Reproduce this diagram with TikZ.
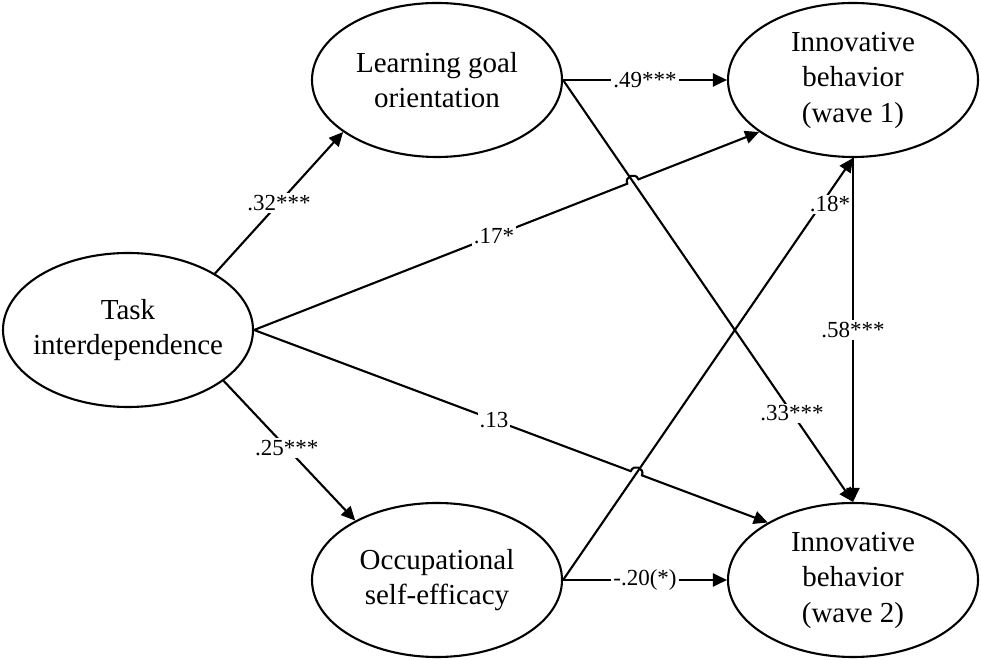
\documentclass[tikz,border=0pt]{standalone}
\usepackage{fontspec}
\setmainfont{Liberation Serif}
\usetikzlibrary{arrows.meta,shapes.geometric,calc,intersections}
\begin{document}
\begin{tikzpicture}[x=1pt,y=1pt,
  latent/.style={ellipse, draw, line width=2.1pt, minimum width=250pt, minimum height=154pt,
    inner xsep=-40pt, inner ysep=0pt, align=center, font=\fontsize{29}{35.5}\selectfont},
  conn/.style={line width=2.1pt, -{Triangle[length=14pt,width=13pt]}},
  lbl/.style={fill=white, inner sep=2pt, font=\fontsize{23}{27}\selectfont}]
\useasboundingbox (0,0) rectangle (981,660);
\node[latent] (task) at (128,330) {Task\\interdependence};
\node[latent] (lgo) at (437,580) {Learning goal\\orientation};
\node[latent] (ose) at (437,80) {Occupational\\self-efficacy};
\node[latent] (w1) at (853,580) {Innovative\\behavior\\(wave 1)};
\node[latent] (w2) at (853,80) {Innovative\\behavior\\(wave 2)};
% paths for crossings
\path[name path=p33] (lgo.east) -- (w2.north);
\path[name path=p17] (task.east) -- (w1.209);
\path[name path=p18] (ose.east) -- (w1.south);
\path[name path=p13] (task.east) -- (w2.146);
\path[name intersections={of=p33 and p17, by=x17}];
\path[name intersections={of=p18 and p13, by=x13}];
% connectors
\draw[conn] (task.33) -- (lgo.209);
\draw[conn] (task.-28) -- (ose.144);
\draw[conn] (lgo.east) -- (w1.west);
\draw[conn] (lgo.east) -- (w2.north);
\draw[conn] (ose.east) -- (w1.south);
\draw[conn] (ose.east) -- (w2.west);
\draw[conn] (w1.south) -- (w2.north);
\draw[conn] (task.east) -- ($(x17)!6pt!(task.east)$) to[bend left=90,looseness=1.7] ($(x17)!6pt!(w1.209)$) -- (w1.209);
\draw[conn] (task.east) -- ($(x13)!6pt!(task.east)$) to[bend left=90,looseness=1.7] ($(x13)!6pt!(w2.146)$) -- (w2.146);
% labels
\node[lbl] (l32) at ($(task.33)!0.5!(lgo.209)$) {.32***};
\node[lbl] (l49) at ($(lgo.east)!0.5!(w1.west)$) {.49***};
\node[lbl] (l17) at ($(task.east)!0.475!(w1.209)$) {.17*};
\node[lbl] (l33) at ($(lgo.east)!0.79!(w2.north)$) {.33***};
\node[lbl] (l58) at ($(w1.south)!0.5!(w2.north)$) {.58***};
\node[lbl] (l13) at ($(task.east)!0.467!(w2.146)$) {.13};
\node[lbl] (l25) at ($(task.-28)!0.48!(ose.144)$) {.25***};
\node[lbl] (l20) at ($(ose.east)!0.5!(w2.west)$) {-.20(*)};
\node[lbl, inner xsep=1pt, xshift=9pt] (l18) at ($(ose.east)!0.89!(w1.south)$) {.18*};
\end{tikzpicture}
\end{document}
